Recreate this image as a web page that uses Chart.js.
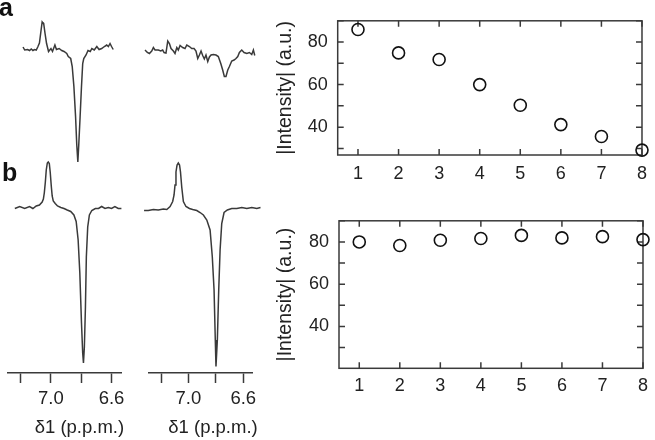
<!DOCTYPE html>
<html>
<head>
<meta charset="utf-8">
<script src="https://cdn.jsdelivr.net/npm/chart.js@4.4.1/dist/chart.umd.min.js"></script>
<style>
    html, body { margin: 0; padding: 0; background: #fff; }
    #figure { position: relative; width: 655px; height: 440px; overflow: hidden; }
    #figure canvas { position: absolute; }
    .panel-label {
        position: absolute;
        font-family: 'Liberation Sans', Arial, sans-serif;
        font-weight: bold;
        font-size: 25px;
        line-height: 25px;
        color: #111;
    }
</style>
</head>
<body>
<div id="figure">
    <canvas id="spectraLeft" width="130" height="440" style="left:0;top:0"></canvas>
    <canvas id="spectraRight" width="130" height="440" style="left:135px;top:0"></canvas>
    <canvas id="decayA" width="395" height="200" style="left:260px;top:0"></canvas>
    <canvas id="decayB" width="395" height="240" style="left:260px;top:200px"></canvas>
    <div class="panel-label" style="left:-1px;top:-5px">a</div>
    <div class="panel-label" style="left:2px;top:160px">b</div>
</div>
<script>
// spectra, chemical shift in p.p.m. and signal in a.u. (baseline = 0)
const a1Ppm = [7.183, 7.172, 7.153, 7.140, 7.129, 7.118, 7.107, 7.096, 7.086, 7.075, 7.064, 7.057, 7.052, 7.047,
    7.038, 7.028, 7.015, 6.999, 6.989, 6.973, 6.963, 6.945, 6.928, 6.913, 6.895, 6.885, 6.869, 6.859, 6.848,
    6.837, 6.829, 6.822, 6.816, 6.807, 6.798, 6.790, 6.783, 6.768, 6.755, 6.740, 6.730, 6.714, 6.697, 6.682,
    6.665, 6.647, 6.632, 6.621, 6.610, 6.600, 6.589];
const a1Signal = [2, -1, -0.5, -1.5, 0, -1.5, -0.5, -1, 2, 6, 19, 27, 26, 25.5,
    15.5, 5.5, -2.5, 0.5, -2.5, 4, -0.5, 0.5, -1.5, -2.5, -4.5, -7.5, -9.5, -17.5, -37.5,
    -67.5, -96, -113, -96, -67.5, -37.5, -14.5, -9.5, -6, -1.5, -2.5, 0.5, -1, 2.5, -0.5,
    0.5, 2.5, 4, 2.5, 5.5, 2.5, -0.5];

const a2Ppm = [7.317, 7.300, 7.285, 7.268, 7.256, 7.244, 7.220, 7.202, 7.188, 7.178, 7.164, 7.151, 7.139, 7.127,
    7.110, 7.098, 7.085, 7.074, 7.061, 7.042, 7.025, 7.012, 6.993, 6.976, 6.959, 6.945, 6.932, 6.920, 6.908,
    6.896, 6.884, 6.872, 6.859, 6.847, 6.835, 6.818, 6.799, 6.782, 6.764, 6.750, 6.738, 6.726, 6.713, 6.701,
    6.684, 6.667, 6.653, 6.640, 6.628, 6.611, 6.594, 6.574, 6.555, 6.538, 6.526, 6.516];
const a2Signal = [0, -2.5, -3.5, -1, 2.5, 0, 0, -1, 0, -2.5, -3, 9, 6.5, 1.5,
    -1, -3.5, 2.5, 0, 4.5, 2.5, 1.5, 5, 3.5, 1.5, 1.5, -1, -8.5, -5, -1,
    -5.5, -9, -5, -11.5, -7, -5, -4.5, -5, -6.5, -13.5, -20, -26.5, -26.5, -20, -16.5,
    -11, -10, -8.5, -6.5, -2.5, 0, -2.5, -3.5, -2.5, -4.5, 0, -5.5];

const b1Ppm = [7.237, 7.205, 7.172, 7.140, 7.118, 7.096, 7.075, 7.057, 7.049, 7.043, 7.036, 7.030, 7.023, 7.017,
    7.010, 7.004, 6.997, 6.991, 6.984, 6.971, 6.956, 6.934, 6.913, 6.892, 6.869, 6.848, 6.833, 6.820, 6.809,
    6.798, 6.790, 6.785, 6.779, 6.772, 6.766, 6.757, 6.746, 6.730, 6.707, 6.686, 6.665, 6.643, 6.621, 6.600,
    6.578, 6.556, 6.535];
const b1Signal = [-0.5, 1.5, -0.5, 1.5, -0.5, 2, 3, 6, 9, 15, 26, 38, 45, 46,
    44.5, 36, 22, 12, 7, 4.5, 2, 0.5, -0.5, -2, -3.5, -7, -13.5, -32, -65,
    -115, -145, -155, -139, -99, -49, -19, -7, -2.5, -0.5, -0.5, 1.5, -0.5, 0.5, -0.5,
    1.5, -0.5, -0.5];

const b2Ppm = [7.324, 7.293, 7.256, 7.220, 7.183, 7.158, 7.134, 7.115, 7.105, 7.098, 7.091, 7.083, 7.074, 7.065,
    7.058, 7.049, 7.037, 7.018, 6.993, 6.969, 6.939, 6.915, 6.891, 6.866, 6.842, 6.826, 6.813, 6.804, 6.799,
    6.789, 6.779, 6.769, 6.757, 6.740, 6.716, 6.684, 6.647, 6.611, 6.574, 6.538, 6.501, 6.474];
const b2Signal = [-1.5, -1.5, -0.5, -1, 0, -0.5, 2.5, 7.5, 14, 24, 37, 44, 46, 44,
    37, 22, 7.5, 2.5, 0.5, -0.5, -1.5, -3.5, -6, -11, -21, -47.5, -81, -131, -157.5,
    -131, -81, -41, -14.5, -3.5, -1, 0.5, 0.5, 1.5, 0.5, 1.5, 0.5, 1.5];

const ppmTicks = [7.2, 7.0, 6.8, 6.6];
const ppmLabelled = [7.0, 6.6];

// |Intensity| against experiment number
const pulseIndex = [1, 2, 3, 4, 5, 6, 7, 8];
const intensityA = [85.9, 74.9, 71.8, 60.0, 50.3, 41.2, 35.6, 29.2];
const intensityB = [80.0, 78.3, 80.8, 81.6, 83.1, 81.9, 82.5, 81.1];
const intensityTicks = [30, 40, 50, 60, 70, 80, 90];
const intensityLabelled = [40, 60, 80];

const FONT = "'Liberation Sans', Arial, sans-serif";
const INK = '#222';
const LINE = '#3a3a3a';

const toPoints = (xs, ys) => xs.map((x, i) => ({ x, y: ys[i] }));

// x axis caption, right-aligned a little past the end of the axis line
const axisCaption = {
    id: 'axisCaption',
    afterDraw(chart, args, opts) {
        const { ctx, chartArea: area } = chart;
        ctx.save();
        ctx.font = `${opts.size}px ${FONT}`;
        ctx.fillStyle = INK;
        ctx.textAlign = 'right';
        ctx.textBaseline = 'middle';
        ctx.fillText(opts.text, area.right + opts.shift, opts.y);
        ctx.restore();
    }
};

const spectrumDataset = (xs, ys, axisId) => ({
    data: toPoints(xs, ys),
    yAxisID: axisId,
    borderColor: LINE,
    borderWidth: 1.5,
    pointRadius: 0,
    tension: 0,
    clip: false
});

const makeSpectra = (canvasId, opts) => new Chart(document.getElementById(canvasId), {
    type: 'line',
    data: {
        datasets: [
            spectrumDataset(opts.upper[0], opts.upper[1], 'ya'),
            spectrumDataset(opts.lower[0], opts.lower[1], 'yb')
        ]
    },
    options: {
        responsive: false,
        animation: false,
        layout: { padding: { left: opts.padLeft, right: opts.padRight, top: 0, bottom: 0 } },
        plugins: {
            legend: { display: false },
            tooltip: { enabled: false },
            axisCaption: { text: 'δ1 (p.p.m.)', size: 18.5, y: 428, shift: opts.captionShift }
        },
        scales: {
            x: {
                type: 'linear',
                reverse: true,
                min: opts.range[0],
                max: opts.range[1],
                afterBuildTicks: (scale) => { scale.ticks = ppmTicks.map((value) => ({ value })); },
                afterFit: (scale) => { scale.height = 67; },
                grid: { drawOnChartArea: false, drawTicks: true, tickLength: 10, tickWidth: 1.5, tickColor: LINE },
                border: { display: true, color: LINE, width: 1.5 },
                ticks: {
                    autoSkip: false,
                    maxRotation: 0,
                    padding: 5,
                    color: INK,
                    font: { family: FONT, size: 18.5 },
                    callback: (value) => (ppmLabelled.includes(value) ? value.toFixed(1) : '')
                }
            },
            ya: { display: false, min: opts.yaRange[0], max: opts.yaRange[1] },
            yb: { display: false, min: opts.ybRange[0], max: opts.ybRange[1] }
        }
    },
    plugins: [axisCaption]
});

// box with inward ticks on all four sides
const frameTicks = {
    id: 'frameTicks',
    beforeDatasetsDraw(chart) {
        const { ctx, chartArea: area, scales: { x, y } } = chart;
        ctx.save();
        ctx.strokeStyle = LINE;
        ctx.lineWidth = 1.5;
        ctx.strokeRect(area.left, area.top, area.width, area.height);
        ctx.beginPath();
        x.ticks.forEach((tick) => {
            const px = x.getPixelForValue(tick.value);
            ctx.moveTo(px, area.bottom);
            ctx.lineTo(px, area.bottom - 6);
            ctx.moveTo(px, area.top);
            ctx.lineTo(px, area.top + 6);
        });
        y.ticks.forEach((tick) => {
            const py = y.getPixelForValue(tick.value);
            ctx.moveTo(area.left, py);
            ctx.lineTo(area.left + 6, py);
            ctx.moveTo(area.right, py);
            ctx.lineTo(area.right - 6, py);
        });
        ctx.stroke();
        ctx.restore();
    }
};

const makeDecay = (canvasId, values, opts) => new Chart(document.getElementById(canvasId), {
    type: 'scatter',
    data: {
        datasets: [{
            data: toPoints(pulseIndex, values),
            pointStyle: 'circle',
            pointRadius: 6,
            borderWidth: 1.6,
            borderColor: '#111',
            backgroundColor: 'rgba(0,0,0,0)',
            clip: false
        }]
    },
    options: {
        responsive: false,
        animation: false,
        layout: { padding: { left: 0, right: opts.padRight, top: opts.padTop, bottom: 0 } },
        plugins: { legend: { display: false }, tooltip: { enabled: false } },
        scales: {
            x: {
                type: 'linear',
                min: 0.5,
                max: 8,
                afterBuildTicks: (scale) => { scale.ticks = pulseIndex.map((value) => ({ value })); },
                afterFit: (scale) => { scale.height = opts.xHeight; },
                grid: { display: false, drawTicks: false },
                border: { display: false },
                ticks: {
                    autoSkip: false,
                    maxRotation: 0,
                    padding: opts.xPad,
                    color: INK,
                    font: { family: FONT, size: 18 }
                }
            },
            y: {
                min: opts.yRange[0],
                max: opts.yRange[1],
                afterBuildTicks: (scale) => { scale.ticks = intensityTicks.map((value) => ({ value })); },
                afterFit: (scale) => { scale.width = opts.yWidth; },
                grid: { display: false, drawTicks: false },
                border: { display: false },
                ticks: {
                    autoSkip: false,
                    padding: 10,
                    color: INK,
                    font: { family: FONT, size: 18 },
                    callback: (value) => (intensityLabelled.includes(value) ? String(value) : '')
                },
                title: {
                    display: true,
                    text: '|Intensity| (a.u.)',
                    color: INK,
                    font: { family: FONT, size: 19.5 },
                    padding: { top: 14.3, bottom: 0 }
                }
            }
        }
    },
    plugins: [frameTicks]
});

makeSpectra('spectraLeft', {
    upper: [a1Ppm, a1Signal],
    lower: [b1Ppm, b1Signal],
    range: [6.537, 7.282],
    yaRange: [-324, 49],
    ybRange: [-165, 208],
    padLeft: 8,
    padRight: 7,
    captionShift: 3
});

makeSpectra('spectraRight', {
    upper: [a2Ppm, a2Signal],
    lower: [b2Ppm, b2Signal],
    range: [6.531, 7.293],
    yaRange: [-323, 50],
    ybRange: [-164, 209],
    padLeft: 13.3,
    padRight: 12.3,
    captionShift: 5
});

makeDecay('decayA', intensityA, {
    yRange: [26.9, 90],
    padTop: 18.3,
    padRight: 10,
    xHeight: 45,
    yWidth: 77.7,
    xPad: 8
});

makeDecay('decayB', intensityB, {
    yRange: [20.2, 90],
    padTop: 19.3,
    padRight: 8.3,
    xHeight: 71.7,
    yWidth: 79,
    xPad: 7
});
</script>
</body>
</html>
